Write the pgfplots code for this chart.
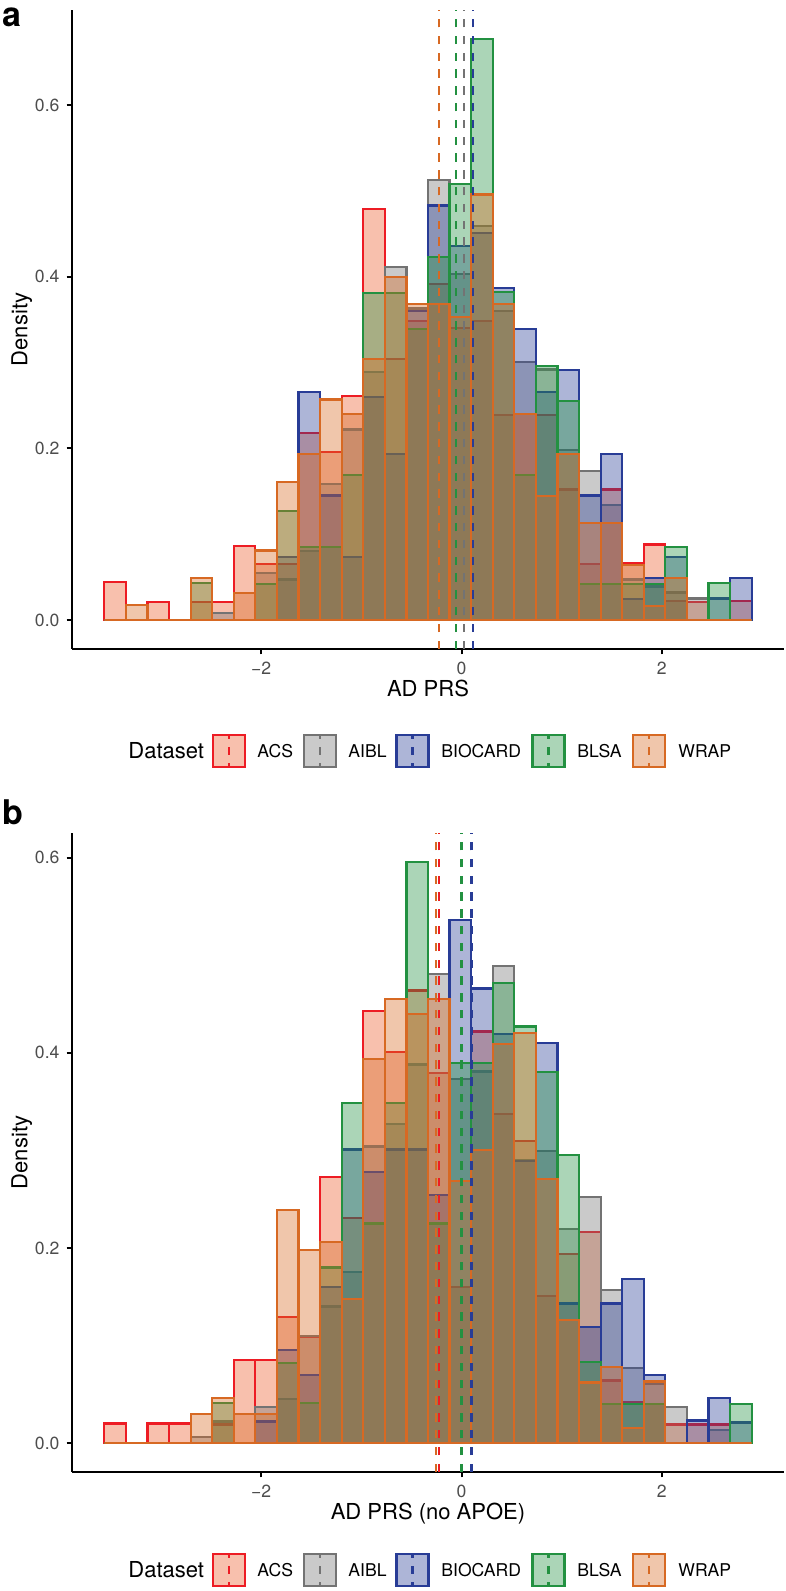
\documentclass[border=0pt]{standalone}
\usepackage{pgfplots}
\pgfplotsset{compat=1.18}
\usepackage{pgfplotstable}
\usepackage{fontspec}
\setmainfont{TeX Gyre Heros}
\definecolor{cACS}{RGB}{237,28,36}
\definecolor{fACS}{RGB}{237,89,40}
\definecolor{cAIBL}{RGB}{115,115,115}
\definecolor{cBIO}{RGB}{40,60,150}
\definecolor{cBLSA}{RGB}{35,145,65}
\definecolor{cWRAP}{RGB}{215,105,35}
\definecolor{tickgray}{RGB}{77,77,77}

\pgfplotstableread{
x ACS AIBL BIOCARD BLSA WRAP
-3.4573 0.044 0 0 0 0
-3.2419 0 0 0 0 0.017
-3.0266 0.021 0 0 0 0
-2.8112 0 0 0 0 0
-2.5958 0.021 0 0 0.043 0.049
-2.3805 0.021 0.008 0 0 0
-2.1651 0.086 0 0 0 0.031
-1.9497 0.065 0.055 0 0.042 0.081
-1.7343 0.065 0.047 0.073 0.127 0.161
-1.5190 0.218 0.080 0.266 0.085 0.193
-1.3036 0.196 0.158 0.145 0.085 0.257
-1.0882 0.261 0.222 0.073 0.169 0.240
-0.8729 0.479 0.289 0.260 0.381 0.304
-0.6575 0.304 0.411 0.193 0.381 0.400
-0.4421 0.348 0.363 0.360 0.339 0.368
-0.2267 0.392 0.513 0.483 0.423 0.368
-0.0114 0.340 0.403 0.436 0.508 0.353
0.2040 0.348 0.459 0.451 0.677 0.496
0.4194 0.239 0.360 0.387 0.382 0.368
0.6347 0.240 0.301 0.339 0.169 0.240
0.8501 0.239 0.292 0.266 0.296 0.144
1.0655 0.152 0.198 0.291 0.255 0.193
1.2809 0.065 0.174 0.145 0.042 0.113
1.4962 0.152 0.134 0.193 0.042 0.113
1.7116 0.066 0.047 0.024 0.042 0.064
1.9270 0.088 0.039 0.049 0.042 0.016
2.1423 0.022 0.032 0.073 0.085 0.049
2.3577 0.021 0.025 0 0 0
2.5731 0 0 0.025 0.043 0
2.7884 0.022 0 0.049 0 0
}\dataA

\pgfplotstableread{
x ACS AIBL BIOCARD BLSA WRAP
-3.4573 0.020 0 0 0 0
-3.2419 0 0 0 0 0
-3.0266 0.020 0 0 0 0
-2.8112 0.020 0 0 0 0
-2.5958 0 0.006 0 0 0.030
-2.3805 0.019 0.022 0 0.041 0.046
-2.1651 0.085 0 0 0 0.030
-1.9497 0.085 0.037 0.022 0 0.030
-1.7343 0.129 0.045 0.095 0.082 0.239
-1.5190 0.109 0.110 0.070 0.041 0.198
-1.3036 0.273 0.140 0.160 0.180 0.206
-1.0882 0.231 0.175 0.301 0.349 0.148
-0.8729 0.443 0.304 0.278 0.225 0.394
-0.6575 0.401 0.327 0.301 0.349 0.455
-0.4421 0.464 0.388 0.301 0.596 0.440
-0.2267 0.379 0.481 0.254 0.225 0.455
-0.0114 0.160 0.373 0.536 0.390 0.269
0.2040 0.422 0.381 0.466 0.390 0.300
0.4194 0.337 0.489 0.419 0.472 0.409
0.6347 0.310 0.290 0.289 0.427 0.420
0.8501 0.151 0.299 0.410 0.380 0.271
1.0655 0.194 0.219 0.143 0.295 0.126
1.2809 0.216 0.252 0.119 0.083 0.062
1.4962 0.064 0.157 0.143 0.040 0.078
1.7116 0.042 0.077 0.168 0.040 0.015
1.9270 0.040 0.061 0.070 0.040 0.063
2.1423 0.019 0.037 0 0 0
2.3577 0.019 0 0.023 0 0
2.5731 0.019 0.013 0.046 0 0
2.7884 0 0 0.021 0.040 0
}\dataB

\pgfplotsset{
  histax/.style={
    scale only axis, width=356pt, height=319.5pt,
    xmin=-3.888, xmax=3.219,
    axis x line=bottom, axis y line=left,
    axis line style={-, line width=1pt, black},
    xtick={-2,0,2}, xticklabels={−2,0,2},
    ytick={0,0.2,0.4,0.6}, yticklabels={0.0,0.2,0.4,0.6},
    tick style={line width=1pt, black},
    tick align=outside, major tick length=2.75pt,
    ticklabel style={font=\fontsize{8.8}{10}\selectfont, text=tickgray},
    xlabel style={at={(axis description cs:0.5,-0.0751)}, anchor=base, font=\fontsize{11}{13}\selectfont},
    ylabel style={at={(axis description cs:-0.0627,0.5)}, anchor=base, font=\fontsize{11}{13}\selectfont},
    ylabel={Density},
  },
  bars/.style 2 args={ybar, bar width=0.21537, bar shift=0pt, draw=#1, fill=#2, fill opacity=0.38, line width=1.1pt, line join=miter},
  mline/.style={#1, line width=1.3pt, dash pattern=on 4.2pt off 4.2pt},
}

\newcommand{\legendrow}[1]{%
  \node[anchor=base west, font=\fontsize{11}{13}\selectfont, inner sep=0pt] at (64pt,#1-3.96pt) {Dataset};
  \foreach \cx/\tx/\col/\fcol/\lab in {114.5/128.5/cACS/fACS/ACS, 160/174/cAIBL/cAIBL/AIBL, 206.25/220.5/cBIO/cBIO/BIOCARD, 274.25/288.5/cBLSA/cBLSA/BLSA, 324.5/339/cWRAP/cWRAP/WRAP}{
    \fill[\fcol, fill opacity=0.38] (\cx pt-8pt,#1-8pt) rectangle (\cx pt+8pt,#1+8pt);
    \draw[\col, line width=1.1pt] (\cx pt-8pt,#1-8pt) rectangle (\cx pt+8pt,#1+8pt);
    \draw[\col, line width=1.1pt, dash pattern=on 4pt off 4pt, dash phase=2pt] (\cx pt,#1-8pt) -- (\cx pt,#1+8pt);
    \node[anchor=base west, font=\fontsize{8.8}{10}\selectfont, inner sep=0pt] at (\tx pt,#1-3.17pt) {\lab};
  }
}

\begin{document}
\begin{tikzpicture}
\useasboundingbox (0,0) rectangle (393pt,795.5pt);
% panel a
\begin{axis}[histax, at={(36pt,471pt)}, anchor=south west,
  ymin=-0.0339, ymax=0.711, xlabel={AD PRS}]
\addplot[bars={cACS}{fACS}] table[x=x,y=ACS]{\dataA};
\addplot[bars={cAIBL}{cAIBL}] table[x=x,y=AIBL]{\dataA};
\addplot[bars={cBIO}{cBIO}] table[x=x,y=BIOCARD]{\dataA};
\addplot[bars={cBLSA}{cBLSA}] table[x=x,y=BLSA]{\dataA};
\addplot[bars={cWRAP}{cWRAP}] table[x=x,y=WRAP]{\dataA};
\addplot[mline=cACS] coordinates {(-0.224,-0.0339) (-0.224,0.711)};
\addplot[mline=cAIBL] coordinates {(0.023,-0.0339) (0.023,0.711)};
\addplot[mline=cBIO] coordinates {(0.115,-0.0339) (0.115,0.711)};
\addplot[mline=cBLSA] coordinates {(-0.057,-0.0339) (-0.057,0.711)};
\addplot[mline=cWRAP] coordinates {(-0.224,-0.0339) (-0.224,0.711)};
\end{axis}
% panel b
\begin{axis}[histax, at={(36pt,59.5pt)}, anchor=south west,
  ymin=-0.0298, ymax=0.6255, xlabel={AD PRS (no APOE)}]
\addplot[bars={cACS}{fACS}] table[x=x,y=ACS]{\dataB};
\addplot[bars={cAIBL}{cAIBL}] table[x=x,y=AIBL]{\dataB};
\addplot[bars={cBIO}{cBIO}] table[x=x,y=BIOCARD]{\dataB};
\addplot[bars={cBLSA}{cBLSA}] table[x=x,y=BLSA]{\dataB};
\addplot[bars={cWRAP}{cWRAP}] table[x=x,y=WRAP]{\dataB};
\addplot[mline=cACS] coordinates {(-0.225,-0.0298) (-0.225,0.6255)};
\addplot[mline=cAIBL] coordinates {(0.100,-0.0298) (0.100,0.6255)};
\addplot[mline=cBIO] coordinates {(0.102,-0.0298) (0.102,0.6255)};
\addplot[mline=cBLSA] coordinates {(0.002,-0.0298) (0.002,0.6255)};
\addplot[mline=cWRAP] coordinates {(-0.255,-0.0298) (-0.255,0.6255)};
\end{axis}
% legends
\legendrow{420pt}
\legendrow{10.5pt}
% panel labels
\node[anchor=base west, inner sep=0pt, font=\fontsize{17}{19}\selectfont\bfseries] at (1pt,782pt) {a};
\node[anchor=base west, inner sep=0pt, font=\fontsize{17}{19}\selectfont\bfseries] at (1pt,383pt) {b};
\end{tikzpicture}
\end{document}
